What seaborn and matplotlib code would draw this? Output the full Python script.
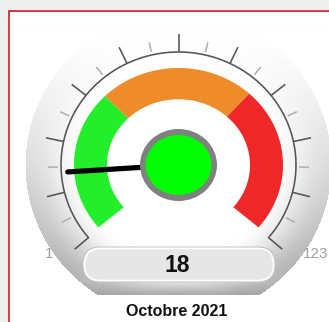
import numpy as np
import pandas as pd
import matplotlib
matplotlib.use("Agg")
import matplotlib.pyplot as plt
from matplotlib.patches import Rectangle, Ellipse, FancyBboxPatch, Polygon
import seaborn as sns

# Gauge data
vmin, vmax = 1, 123
value = 18
thresholds = [1, 41, 82, 123]
band_colors = ["#22ee2a", "#ef8c2a", "#ee2828"]
period_label = "Octobre 2021"
n_major = 10
n_minor_per = 2

sns.set_theme(style="white")
plt.rcParams["font.family"] = ["Liberation Sans", "DejaVu Sans"]

W, H = 329, 322
fig = plt.figure(figsize=(W / 100, H / 100), dpi=100, facecolor="#eeeeee")
ax = fig.add_axes([0, 0, 1, 1])
ax.set_xlim(0, W)
ax.set_ylim(H, 0)
ax.axis("off")

PX = 0.72  # points per pixel at 100 dpi

# panel with red border
ax.add_patch(Rectangle((9, 11), W + 20, H + 20, facecolor="white",
                       edgecolor="#d60000", lw=1.5 * PX, zorder=0))

cx, cy = 178.5, 165.0
start_deg, span_deg = 220.0, 260.0


def angle(v):
    return np.deg2rad(start_deg - (v - vmin) / (vmax - vmin) * span_deg)


def ell(t, rx, ry):
    return cx + rx * np.cos(t), cy - ry * np.sin(t)


# shaded dial body, lit from above
R = 153.0
yy, xx = np.mgrid[0:H, 0:W] + 0.5
r = np.hypot(xx - cx, yy - cy) / R
s = np.clip((r - 0.6) / 0.4, 0, 1)
s = s * s * (3 - 2 * s)
w = np.clip(((yy - cy) / R + 0.85) / 1.5, 0, 1) ** 1.3
shade = 72 * s * w
lip = np.clip((yy - 282) / 13, 0, 1) * 40 * np.clip(1 - np.abs(xx - cx) / 140, 0, 1)
g = (255 - shade - lip) / 255
mask = (r <= 1) & (yy <= 295)
img = np.zeros((H, W, 4))
img[..., 0] = g
img[..., 1] = g
img[..., 2] = g
img[..., 3] = mask.astype(float)
ax.imshow(img, extent=(0, W, H, 0), interpolation="bilinear", zorder=1)

# colour bands
brx_o, bry_o, brx_i, bry_i = 104.5, 97.0, 71.5, 65.7
for lo, hi, col in zip(thresholds[:-1], thresholds[1:], band_colors):
    t = np.linspace(angle(lo), angle(hi), 120)
    xo, yo = ell(t, brx_o, bry_o)
    xi, yi = ell(t[::-1], brx_i, bry_i)
    ax.add_patch(Polygon(np.column_stack([np.r_[xo, xi], np.r_[yo, yi]]),
                         closed=True, facecolor=col, edgecolor="none", zorder=3))

# scale arc
arx, ary = 117.5, 113.0
t = np.linspace(angle(vmin), angle(vmax), 300)
xa, ya = ell(t, arx, ary)
arc_df = pd.DataFrame({"x": xa, "y": ya})
sns.lineplot(data=arc_df, x="x", y="y", sort=False, estimator=None, ax=ax,
             color="#555555", lw=1.6 * PX, zorder=4)

# ticks
steps = n_major * n_minor_per
for k in range(steps + 1):
    v = vmin + (vmax - vmin) * k / steps
    a = angle(v)
    if k % n_minor_per == 0:
        x0, y0 = ell(a, arx, ary)
        x1, y1 = ell(a, arx + 18, ary + 18)
        ax.plot([x0, x1], [y0, y1], color="#555555", lw=1.6 * PX,
                solid_capstyle="butt", zorder=4)
    else:
        x0, y0 = ell(a, arx + 3, ary + 3)
        x1, y1 = ell(a, arx + 13, ary + 13)
        ax.plot([x0, x1], [y0, y1], color="#b0b0b0", lw=1.6 * PX,
                solid_capstyle="butt", zorder=4)

# needle
a = angle(value)
nx, ny = ell(a, 111.0, 106.0)
needle_df = pd.DataFrame({"x": [cx, nx], "y": [cy, ny]})
sns.lineplot(data=needle_df, x="x", y="y", sort=False, estimator=None, ax=ax,
             color="black", lw=5.2 * PX, zorder=5)
for ln in ax.get_lines()[-1:]:
    ln.set_solid_capstyle("round")

# hub
ax.add_patch(Ellipse((cx, cy), 2 * 38.5, 2 * 36.0, facecolor="#808080",
                     edgecolor="none", zorder=6))
ax.add_patch(Ellipse((cx, cy), 2 * 33.0, 2 * 30.0, facecolor="#00ff00",
                     edgecolor="none", zorder=7))

# value box
ax.add_patch(FancyBboxPatch((83, 247), 192, 35,
                            boxstyle="round,pad=0,rounding_size=17",
                            facecolor="#e6e6e6", edgecolor="#c4c4c4",
                            lw=1.0 * PX, zorder=8))
ax.add_patch(FancyBboxPatch((84.5, 248.5), 189, 32,
                            boxstyle="round,pad=0,rounding_size=16",
                            facecolor="none", edgecolor="white",
                            lw=1.6 * PX, zorder=8))
ax.text(177, 265.5, f"{value}", ha="center", va="center", fontsize=16.5,
        fontweight="bold", color="#111111", zorder=9)

# range labels
ax.text(49.3, 254, f"{vmin}", ha="center", va="center", fontsize=11,
        color="#a0a0a0", zorder=9)
ax.text(303, 254, f"{vmax}", ha="left", va="center", fontsize=11,
        color="#a0a0a0", zorder=9)

ax.text(177, 311.5, period_label, ha="center", va="center", fontsize=11.5,
        fontweight="bold", color="#111111", zorder=9)

fig.savefig("out.png", dpi=100, facecolor=fig.get_facecolor())
